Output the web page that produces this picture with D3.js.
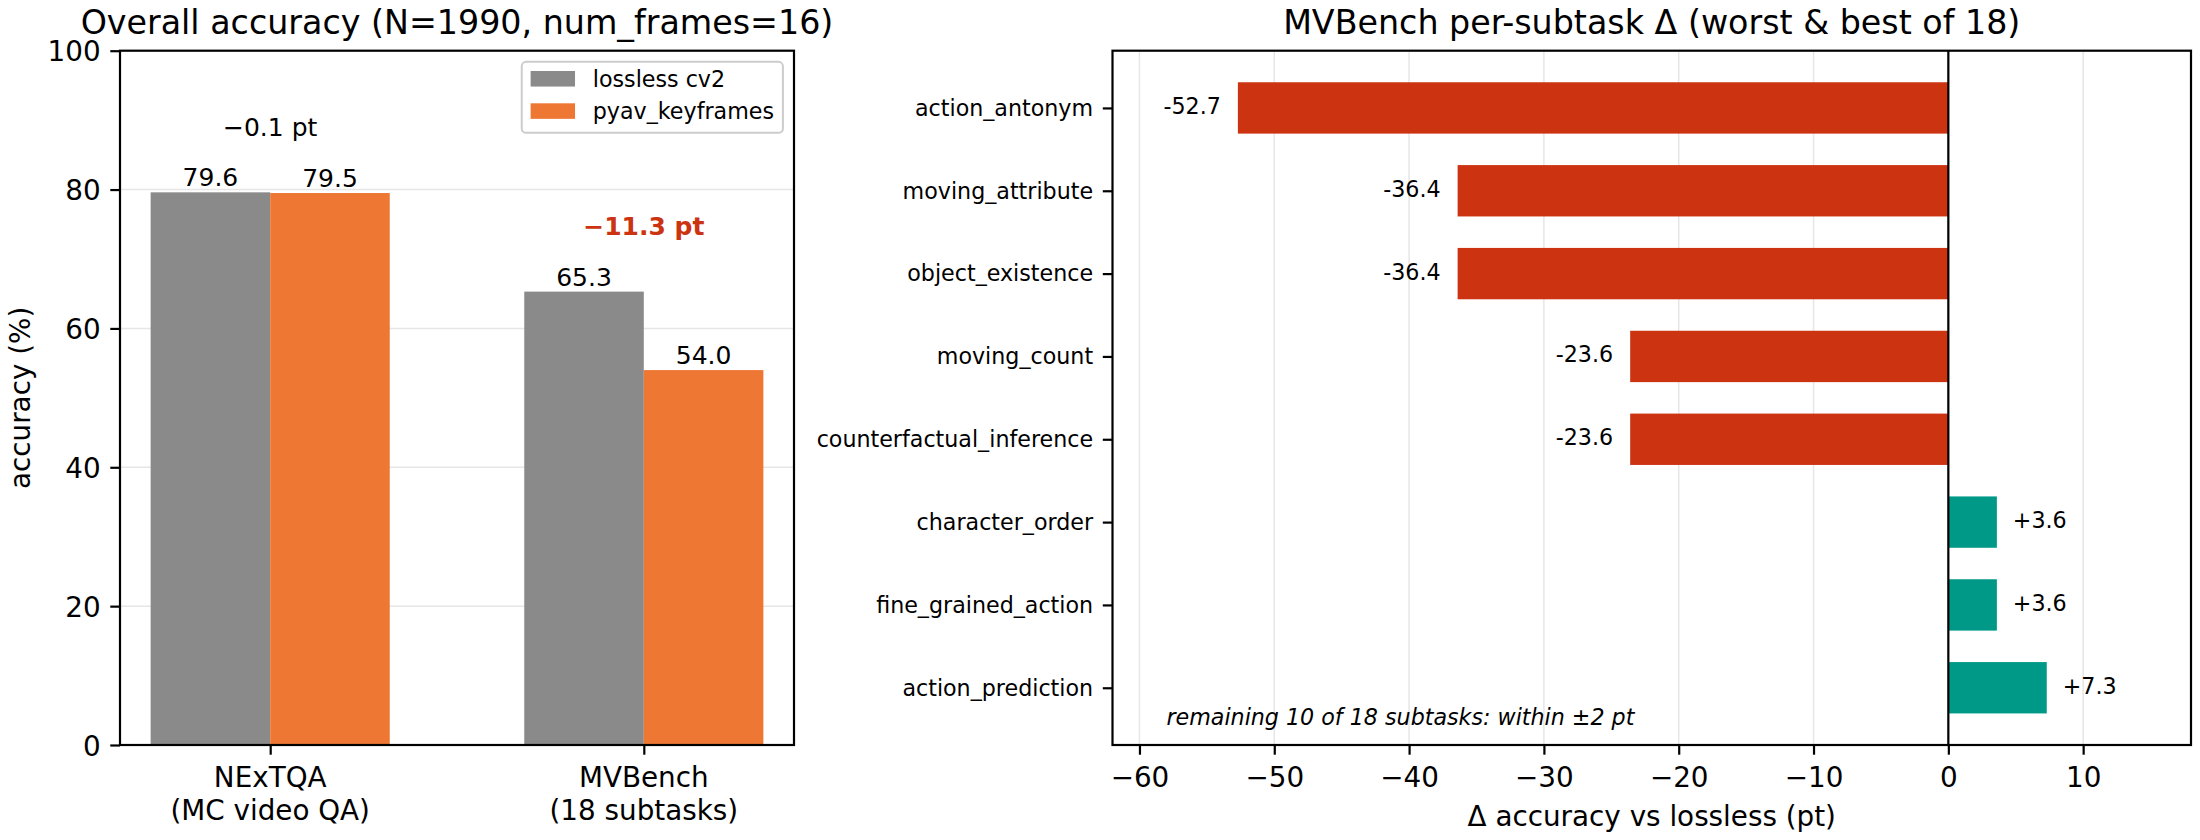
<!DOCTYPE html>
<html>
<head>
<meta charset="utf-8">
<script src="https://cdn.jsdelivr.net/npm/d3@7"></script>
<style>
  html, body { margin: 0; padding: 0; background: #fff; }
  svg { display: block; font-family: 'DejaVu Sans', sans-serif; }
</style>
</head>
<body>
<svg id="chart" width="2200" height="840"></svg>
<script>
// left panel: overall accuracy
var benchmarks = ['NExTQA', 'MVBench'];
var benchmarkNotes = ['(MC video QA)', '(18 subtasks)'];
var seriesNames = ['lossless cv2', 'pyav_keyframes'];
var losslessAcc = [79.6, 65.3];
var keyframesAcc = [79.5, 54.0];
var accTicks = [0, 20, 40, 60, 80, 100];

// right panel: MVBench per-subtask delta
var subtasks = ['action_antonym', 'moving_attribute', 'object_existence', 'moving_count',
  'counterfactual_inference', 'character_order', 'fine_grained_action', 'action_prediction'];
var subtaskDelta = [-52.7, -36.4, -36.4, -23.6, -23.6, 3.6, 3.6, 7.3];
var deltaTicks = [-60, -50, -40, -30, -20, -10, 0, 10];
var footnote = 'remaining 10 of 18 subtasks: within \u00b12 pt';

(function () {
  'use strict';

  var svg = d3.select('#chart');
  var FS = { title: 33.3, tick: 27.8, value: 25, small: 22.2 };
  var LW = 2.2, TICK = 9.7;
  var GREY = '#8a8a8a', ORANGE = '#ee7733', RED = '#cc3311', TEAL = '#009988', GRID = '#e6e6e6';
  var minus = function (s) { return s.replace('-', '\u2212'); };

  // ---------- left: grouped bars ----------
  var L = { x0: 120, x1: 794, y0: 50.7, y1: 745 };
  var barW = 0.32;
  var mx = 0.05 * (1 + 2 * barW);
  var xL = d3.scaleLinear().domain([-barW - mx, 1 + barW + mx]).range([L.x0, L.x1]);
  var yL = d3.scaleLinear().domain([0, 100]).range([L.y1, L.y0]);
  var series = [losslessAcc, keyframesAcc];
  var colors = [GREY, ORANGE];

  var gl = svg.append('g');
  gl.append('g').selectAll('line').data(accTicks).enter().append('line')
    .attr('x1', L.x0).attr('x2', L.x1)
    .attr('y1', function (d) { return yL(d); }).attr('y2', function (d) { return yL(d); })
    .attr('stroke', GRID).attr('stroke-width', 1.5);

  series.forEach(function (vals, s) {
    var off = s === 0 ? -barW : 0;
    gl.append('g').selectAll('rect').data(vals).enter().append('rect')
      .attr('x', function (d, i) { return xL(i + off); })
      .attr('width', xL(barW) - xL(0))
      .attr('y', function (d) { return yL(d); })
      .attr('height', function (d) { return yL(0) - yL(d); })
      .attr('fill', colors[s]);
    gl.append('g').selectAll('text').data(vals).enter().append('text')
      .attr('x', function (d, i) { return xL(i + off + barW / 2); })
      .attr('y', function (d) { return yL(d) - 6; })
      .attr('text-anchor', 'middle').style('font-size', FS.value + 'px')
      .text(function (d) { return d.toFixed(1); });
  });

  // delta annotations above each group
  benchmarks.forEach(function (b, i) {
    var diff = keyframesAcc[i] - losslessAcc[i];
    var top = Math.max(losslessAcc[i], keyframesAcc[i]);
    var big = Math.abs(diff) > 5;
    gl.append('text')
      .attr('x', xL(i)).attr('y', yL(top + 8) - 1)
      .attr('text-anchor', 'middle').style('font-size', FS.value + 'px')
      .style('font-weight', big ? 'bold' : 'normal')
      .attr('fill', big ? RED : '#000')
      .text(minus(diff.toFixed(1)) + ' pt');
  });

  // axes
  var yAxL = gl.append('g').attr('transform', 'translate(' + L.x0 + ',0)')
    .call(d3.axisLeft(yL).tickValues(accTicks).tickSizeInner(TICK).tickSizeOuter(0).tickPadding(9.7));
  yAxL.select('.domain').remove();
  yAxL.selectAll('line').attr('stroke-width', LW);
  yAxL.selectAll('text').attr('dy', '0.36em').style('font-size', FS.tick + 'px')
    .style('font-family', 'DejaVu Sans').attr('fill', '#000');

  var xAxL = gl.append('g').attr('transform', 'translate(0,' + L.y1 + ')')
    .call(d3.axisBottom(xL).tickValues([0, 1]).tickSizeInner(TICK).tickSizeOuter(0).tickFormat(''));
  xAxL.select('.domain').remove();
  xAxL.selectAll('line').attr('stroke-width', LW);
  benchmarks.forEach(function (b, i) {
    var t = gl.append('text').attr('text-anchor', 'middle').style('font-size', FS.tick + 'px');
    t.append('tspan').attr('x', xL(i)).attr('y', 787).text(b);
    t.append('tspan').attr('x', xL(i)).attr('y', 820.3).text(benchmarkNotes[i]);
  });

  gl.append('rect').attr('x', L.x0).attr('y', L.y0)
    .attr('width', L.x1 - L.x0).attr('height', L.y1 - L.y0)
    .attr('fill', 'none').attr('stroke', '#000').attr('stroke-width', LW);

  gl.append('text').attr('transform', 'translate(29.5,' + (L.y0 + L.y1) / 2 + ') rotate(-90)')
    .attr('text-anchor', 'middle').style('font-size', FS.tick + 'px').text('accuracy (%)');
  gl.append('text').attr('x', (L.x0 + L.x1) / 2).attr('y', 34)
    .attr('text-anchor', 'middle').style('font-size', FS.title + 'px')
    .text('Overall accuracy (N=1990, num_frames=16)');

  // legend
  var fsL = FS.small;
  var leg = gl.append('g');
  var legBox = leg.append('rect');
  var legItems = leg.selectAll('g').data(seriesNames).enter().append('g');
  var textW = 0;
  legItems.append('text').style('font-size', fsL + 'px').text(function (d) { return d; })
    .each(function () { textW = Math.max(textW, this.getComputedTextLength()); });
  var lw = 0.4 * fsL * 2 + 2 * fsL + 0.8 * fsL + textW;
  var lx = L.x1 - 0.5 * fsL - lw, ly = L.y0 + 0.5 * fsL;
  legBox.attr('x', lx).attr('y', ly).attr('width', lw).attr('height', 71)
    .attr('rx', 4.4).attr('fill', '#fff').attr('fill-opacity', 0.8)
    .attr('stroke', '#cccccc').attr('stroke-width', 2);
  legItems.each(function (d, i) {
    var g = d3.select(this);
    var cy = ly + 17 + i * 32.3;
    g.insert('rect', 'text').attr('x', lx + 0.4 * fsL).attr('y', cy - 7.8)
      .attr('width', 2 * fsL).attr('height', 0.7 * fsL).attr('fill', colors[i]);
    g.select('text').attr('x', lx + 0.4 * fsL + 2.8 * fsL).attr('y', cy + 8);
  });

  // ---------- right: horizontal delta bars ----------
  var R = { x0: 1112.5, x1: 2191, y0: 50.7, y1: 745 };
  var barH = 0.62, n = subtasks.length;
  var my = 0.05 * (n - 1 + barH);
  var xR = d3.scaleLinear().domain([-62, 18]).range([R.x0, R.x1]);
  var yR = d3.scaleLinear().domain([-barH / 2 - my, n - 1 + barH / 2 + my]).range([R.y0, R.y1]);

  var gr = svg.append('g');
  gr.append('g').selectAll('line').data(deltaTicks).enter().append('line')
    .attr('x1', function (d) { return xR(d); }).attr('x2', function (d) { return xR(d); })
    .attr('y1', R.y0).attr('y2', R.y1)
    .attr('stroke', GRID).attr('stroke-width', 1.5);

  gr.append('g').selectAll('rect').data(subtaskDelta).enter().append('rect')
    .attr('x', function (d) { return xR(Math.min(0, d)); })
    .attr('width', function (d) { return Math.abs(xR(d) - xR(0)); })
    .attr('y', function (d, i) { return yR(i - barH / 2); })
    .attr('height', yR(barH) - yR(0))
    .attr('fill', function (d) { return d < 0 ? RED : TEAL; });

  gr.append('line').attr('x1', xR(0)).attr('x2', xR(0)).attr('y1', R.y0).attr('y2', R.y1)
    .attr('stroke', '#000').attr('stroke-width', LW);

  gr.append('g').selectAll('text').data(subtaskDelta).enter().append('text')
    .attr('x', function (d) { return d < 0 ? xR(d) - 17 : xR(d) + 16; })
    .attr('y', function (d, i) { return yR(i) + 6; })
    .attr('text-anchor', function (d) { return d < 0 ? 'end' : 'start'; })
    .style('font-size', FS.small + 'px')
    .text(function (d) { return (d > 0 ? '+' : '') + d.toFixed(1); });

  var yAxR = gr.append('g').attr('transform', 'translate(' + R.x0 + ',0)')
    .call(d3.axisLeft(yR).tickValues(d3.range(n)).tickSizeInner(TICK).tickSizeOuter(0).tickPadding(9.7)
      .tickFormat(function (i) { return subtasks[i]; }));
  yAxR.select('.domain').remove();
  yAxR.selectAll('line').attr('stroke-width', LW);
  yAxR.selectAll('text').attr('dy', '0.33em').style('font-size', FS.small + 'px')
    .style('font-family', 'DejaVu Sans').attr('fill', '#000');

  var xAxR = gr.append('g').attr('transform', 'translate(0,' + R.y1 + ')')
    .call(d3.axisBottom(xR).tickValues(deltaTicks).tickSizeInner(TICK).tickSizeOuter(0).tickPadding(12.5)
      .tickFormat(function (d) { return minus(String(d)); }));
  xAxR.select('.domain').remove();
  xAxR.selectAll('line').attr('stroke-width', LW);
  xAxR.selectAll('text').style('font-size', FS.tick + 'px')
    .style('font-family', 'DejaVu Sans').attr('fill', '#000');

  gr.append('rect').attr('x', R.x0).attr('y', R.y0)
    .attr('width', R.x1 - R.x0).attr('height', R.y1 - R.y0)
    .attr('fill', 'none').attr('stroke', '#000').attr('stroke-width', LW);

  gr.append('text').attr('x', R.x0 + 0.05 * (R.x1 - R.x0)).attr('y', 725)
    .style('font-size', FS.small + 'px').style('font-style', 'italic').text(footnote);

  gr.append('text').attr('x', (R.x0 + R.x1) / 2).attr('y', 826)
    .attr('text-anchor', 'middle').style('font-size', FS.tick + 'px')
    .text('\u0394 accuracy vs lossless (pt)');
  gr.append('text').attr('x', (R.x0 + R.x1) / 2).attr('y', 34)
    .attr('text-anchor', 'middle').style('font-size', FS.title + 'px')
    .text('MVBench per-subtask \u0394 (worst & best of 18)');
})();
</script>
</body>
</html>
